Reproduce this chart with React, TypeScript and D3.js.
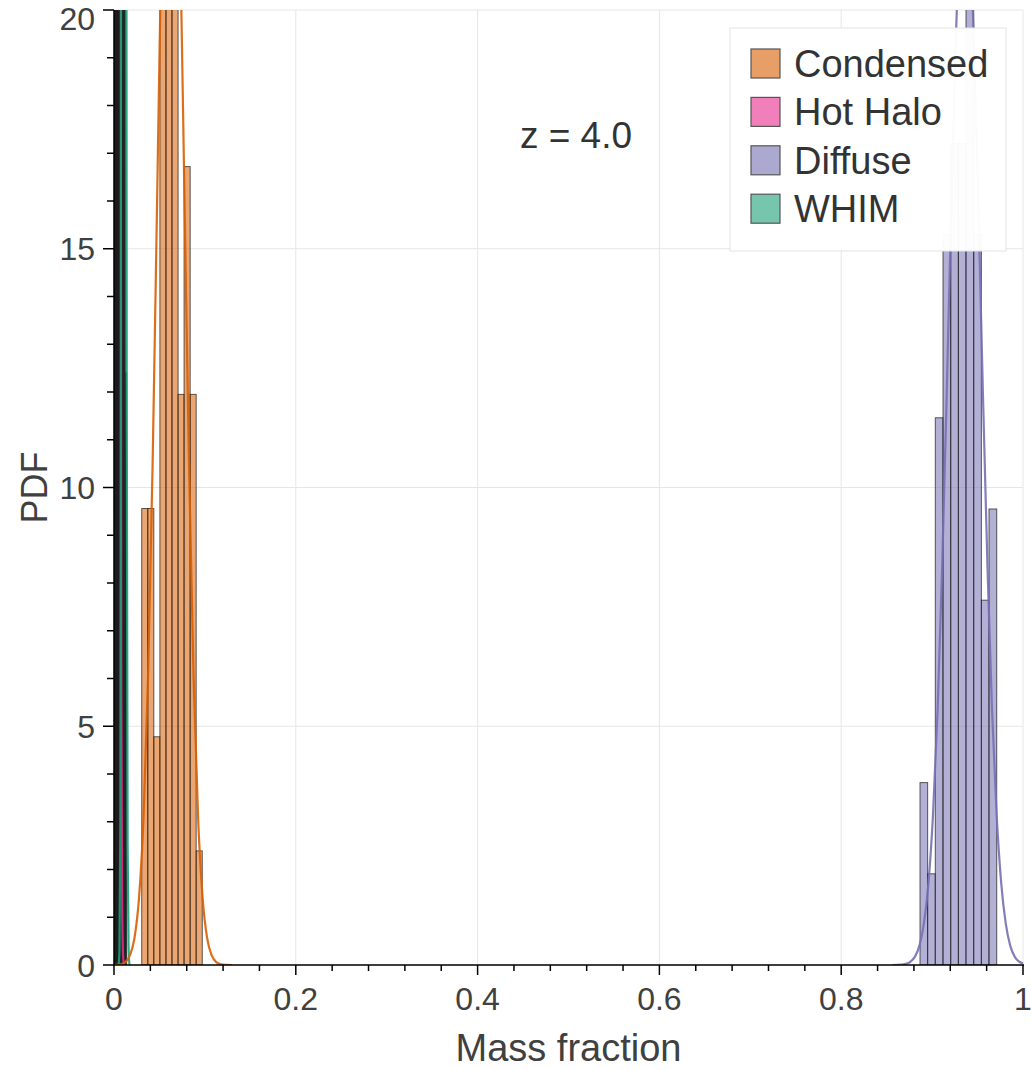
import React from "react";
import * as d3 from "d3";

// ---------- data ----------
const seriesNames = ["Condensed", "Hot Halo", "Diffuse", "WHIM"];
const lineColors = ["#d95f02", "#e7298a", "#7570b3", "#1b9e77"];

const xTicks = [0, 0.2, 0.4, 0.6, 0.8, 1];
const xTickLabels = ["0", "0.2", "0.4", "0.6", "0.8", "1"];
const yTicks = [0, 5, 10, 15, 20];
const yTickLabels = ["0", "5", "10", "15", "20"];

// histogram bin edges and PDF heights
const hotHaloEdges = [0.0004, 0.0011, 0.0018, 0.0025, 0.0032, 0.0039, 0.0046, 0.0053, 0.006, 0.0067, 0.0074];
const hotHaloPdf = [45, 135, 225, 315, 405, 270, 180, 90, 45, 22.5];

const whimEdges = [0.0074, 0.00805, 0.0087, 0.00935, 0.01, 0.01065, 0.0113, 0.01195, 0.0126, 0.01325, 0.0139];
const whimPdf = [36, 97, 170, 220, 195, 122, 73, 24.4, 12.4, 12.4];

const condensedEdges = [0.0305, 0.0372, 0.0438, 0.0505, 0.0572, 0.0638, 0.0705, 0.0771, 0.0838, 0.0904, 0.0971];
const condensedPdf = [9.56, 9.56, 4.78, 23.9, 31.1, 28.7, 11.95, 16.72, 11.95, 2.39];

const diffuseEdges = [0.8867, 0.8951, 0.9035, 0.912, 0.9205, 0.9289, 0.9373, 0.9458, 0.9542, 0.9626, 0.9711];
const diffusePdf = [3.82, 1.91, 11.46, 15.3, 17.2, 17.2, 21.0, 15.3, 7.64, 9.55];

// fitted PDF curves
const hotHaloCurveX = [0, 0.001, 0.002, 0.003, 0.004, 0.005, 0.006, 0.007, 0.008, 0.009, 0.01, 0.011];
const hotHaloCurveY = [40, 150, 380, 520, 450, 260, 110, 35, 6, 1.2, 0.2, 0];

const whimCurveX = [0.005, 0.006, 0.007, 0.008, 0.009, 0.01, 0.011, 0.012, 0.013, 0.014, 0.015, 0.016, 0.017];
const whimCurveY = [0, 0.3, 3, 25, 95, 170, 175, 110, 45, 12, 2.5, 0.4, 0];

const condensedCurveX = [0, 0.0025, 0.0075, 0.0125, 0.0175, 0.0225, 0.0275, 0.0325, 0.0375, 0.0425, 0.0475, 0.0525, 0.0575, 0.0625,
  0.0675, 0.0725, 0.0775, 0.0825, 0.0875, 0.0925, 0.0975, 0.1025, 0.1075, 0.1125, 0.1175, 0.1225, 0.13];
const condensedCurveY = [0, 0.004, 0.017, 0.06, 0.2, 0.56, 1.4, 3.09, 6.05, 10.5, 16.1, 21.8, 26.2, 27.9,
  26.2, 21.8, 16.1, 10.5, 6.05, 3.09, 1.4, 0.56, 0.2, 0.06, 0.017, 0.004, 0];

const diffuseCurveX = [0.856, 0.866, 0.871, 0.876, 0.881, 0.886, 0.891, 0.896, 0.901, 0.906, 0.911, 0.916, 0.921, 0.926, 0.931, 0.936,
  0.941, 0.946, 0.951, 0.956, 0.961, 0.966, 0.971, 0.976, 0.981, 0.986, 0.991, 0.996, 1.0];
const diffuseCurveY = [0, 0.008, 0.025, 0.068, 0.17, 0.4, 0.87, 1.72, 3.15, 5.31, 8.29, 11.9, 15.8, 19.3, 21.8, 22.7,
  21.8, 19.3, 15.8, 11.9, 8.29, 5.31, 3.15, 1.72, 0.87, 0.4, 0.17, 0.068, 0.03];

const annotation = "z = 4.0";
const xTitle = "Mass fraction";
const yTitle = "PDF";

// ---------- layout ----------
const W = 1031;
const H = 1070;
const left = 114;
const right = 1023;
const top = 10;
const bottom = 965;
const FONT = "'Liberation Sans', Arial, Helvetica, sans-serif";

function fade(hex: string, a: number) {
  const c = d3.rgb(hex);
  const mix = (v: number) => Math.round(255 - a * (255 - v));
  return d3.rgb(mix(c.r), mix(c.g), mix(c.b)).formatHex();
}

export default function App() {
  const x = d3.scaleLinear().domain([0, 1]).range([left, right]);
  const y = d3.scaleLinear().domain([0, 20]).range([bottom, top]);

  const hists = [
    { edges: hotHaloEdges, pdf: hotHaloPdf, color: lineColors[1], so: 0.95 },
    { edges: whimEdges, pdf: whimPdf, color: lineColors[3], so: 0.75 },
    { edges: condensedEdges, pdf: condensedPdf, color: lineColors[0], so: 0.7 },
    { edges: diffuseEdges, pdf: diffusePdf, color: lineColors[2], so: 0.7 },
  ];
  const curves = [
    { xs: hotHaloCurveX, ys: hotHaloCurveY, color: lineColors[1] },
    { xs: whimCurveX, ys: whimCurveY, color: lineColors[3] },
    { xs: condensedCurveX, ys: condensedCurveY, color: lineColors[0] },
    { xs: diffuseCurveX, ys: diffuseCurveY, color: lineColors[2] },
  ];

  const line = d3
    .line<[number, number]>()
    .x((d) => x(d[0]))
    .y((d) => y(d[1]))
    .curve(d3.curveMonotoneX);

  const xMinor = d3.range(0, 1.0001, 0.04).filter((v) => Math.abs(v / 0.2 - Math.round(v / 0.2)) > 1e-6);
  const yMinor = d3.range(0, 20.0001, 1).filter((v) => v % 5 !== 0);

  const legendX = 730;
  const legendY = 28;
  const rowH = 48.4;

  return (
    <div style={{ position: "absolute", left: 0, top: 0 }}>
      <svg width={W} height={H} style={{ display: "block", background: "#fff" }}>
        <defs>
          <clipPath id="plotClip">
            <rect x={left} y={top} width={right - left + 1} height={bottom - top} />
          </clipPath>
        </defs>

        {/* grid */}
        <g stroke="#e6e6e6" strokeWidth={1}>
          {xTicks.map((t, i) => (
            <line key={"gx" + i} x1={x(t)} x2={x(t)} y1={top} y2={bottom} />
          ))}
          {yTicks.map((t, i) => (
            <line key={"gy" + i} x1={left} x2={right} y1={y(t)} y2={y(t)} />
          ))}
        </g>

        {/* histograms */}
        <g clipPath="url(#plotClip)">
          {hists.map((h, hi) => (
            <g key={"h" + hi}>
              {h.pdf.map((v, i) => (
                <rect
                  key={i}
                  x={x(h.edges[i])}
                  width={x(h.edges[i + 1]) - x(h.edges[i])}
                  y={y(v)}
                  height={y(0) - y(v)}
                  fill={h.color}
                  fillOpacity={0.55}
                  stroke="#1a1a1a"
                  strokeOpacity={h.so}
                  strokeWidth={1}
                />
              ))}
            </g>
          ))}
          {curves.map((c, ci) => (
            <path
              key={"c" + ci}
              d={line(c.xs.map((v, i) => [v, c.ys[i]] as [number, number])) || ""}
              fill="none"
              stroke={c.color}
              strokeWidth={2.2}
              strokeOpacity={0.9}
            />
          ))}
        </g>

        {/* axes */}
        <g stroke="#000" strokeWidth={1.5}>
          <line x1={left} x2={right + 1} y1={bottom} y2={bottom} />
          <line x1={left} x2={left} y1={top} y2={bottom} />
          {xTicks.map((t, i) => (
            <line key={"xt" + i} x1={x(t)} x2={x(t)} y1={bottom} y2={bottom + 10} />
          ))}
          {xMinor.map((t, i) => (
            <line key={"xm" + i} x1={x(t)} x2={x(t)} y1={bottom} y2={bottom + 6} />
          ))}
          {yTicks.map((t, i) => (
            <line key={"yt" + i} x1={left - 11} x2={left} y1={y(t)} y2={y(t)} />
          ))}
          {yMinor.map((t, i) => (
            <line key={"ym" + i} x1={left - 7} x2={left} y1={y(t)} y2={y(t)} />
          ))}
        </g>

        <g fontFamily={FONT} fill="#404040" fontSize={32}>
          {xTicks.map((t, i) => (
            <text key={"xl" + i} x={x(t)} y={1010} textAnchor="middle">
              {xTickLabels[i]}
            </text>
          ))}
          {yTicks.map((t, i) => (
            <text key={"yl" + i} x={95} y={Math.max(y(t) + 11.5, 30)} textAnchor="end">
              {yTickLabels[i]}
            </text>
          ))}
        </g>

        <text x={(left + right) / 2} y={1061} textAnchor="middle" fontFamily={FONT} fontSize={38} fill="#404040">
          {xTitle}
        </text>
        <text
          transform={`translate(47, ${(top + bottom) / 2}) rotate(-90)`}
          textAnchor="middle"
          fontFamily={FONT}
          fontSize={36}
          fill="#404040"
        >
          {yTitle}
        </text>

        <text x={576} y={148} textAnchor="middle" fontFamily={FONT} fontSize={37} fill="#333">
          {annotation}
        </text>

        {/* legend */}
        <g>
          <rect x={legendX} y={legendY} width={276} height={223} style={{ fill: "rgb(255,255,255)", fillOpacity: 0.97 }} stroke="#e3e3e3" strokeWidth={1} />
          {seriesNames.map((name, i) => (
            <g key={"lg" + i} transform={`translate(${legendX + 21}, ${legendY + 21 + i * rowH})`}>
              <rect width={29} height={29} fill={fade(lineColors[i], 0.6)} stroke="#555" strokeWidth={1.2} />
              <text x={43} y={28} fontFamily={FONT} fontSize={38} fill="#333">
                {name}
              </text>
            </g>
          ))}
        </g>
      </svg>
    </div>
  );
}
